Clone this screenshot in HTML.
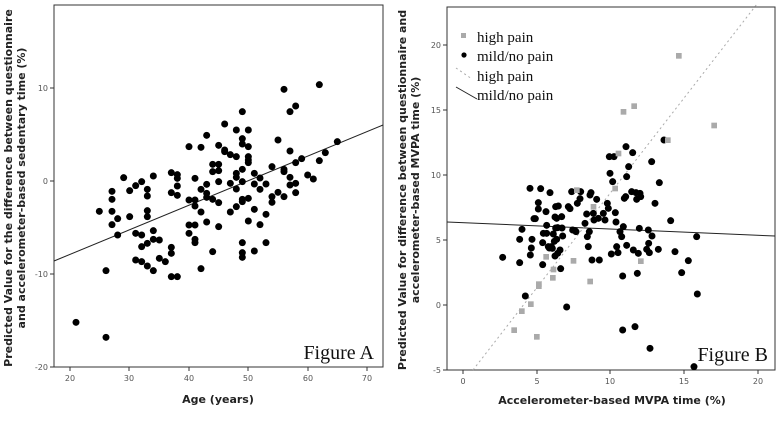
<!DOCTYPE html>
<html><head><meta charset="utf-8"><style>
html,body{margin:0;padding:0;background:#fff;}
svg{display:block;}
.t{font-family:"DejaVu Sans","Liberation Sans",sans-serif;font-size:8px;fill:#555;}
.ax{font-family:"DejaVu Sans","Liberation Sans",sans-serif;font-size:11px;font-weight:bold;fill:#222;}
.sf{font-family:"Liberation Serif",serif;fill:#111;}
.pts circle{r:10.5px;}
</style></head><body>
<svg width="782" height="421" viewBox="0 0 782 421" xmlns="http://www.w3.org/2000/svg">
<rect width="782" height="421" fill="#fff"/>
<!-- Figure A -->
<rect x="54" y="5" width="329" height="362" fill="none" stroke="#333" stroke-width="1"/>
<g stroke="#333" stroke-width="1">
<line x1="50" y1="88" x2="54" y2="88"/><line x1="50" y1="181" x2="54" y2="181"/><line x1="50" y1="274" x2="54" y2="274"/><line x1="50" y1="367" x2="54" y2="367"/>
<line x1="70" y1="367" x2="70" y2="371"/><line x1="129" y1="367" x2="129" y2="371"/><line x1="189" y1="367" x2="189" y2="371"/><line x1="248" y1="367" x2="248" y2="371"/><line x1="308" y1="367" x2="308" y2="371"/><line x1="367" y1="367" x2="367" y2="371"/>
</g>
<text class="t" x="48" y="91" text-anchor="end">10</text>
<text class="t" x="48" y="184" text-anchor="end">0</text>
<text class="t" x="48" y="277" text-anchor="end">-10</text>
<text class="t" x="48" y="370" text-anchor="end">-20</text>
<g text-anchor="middle" class="t"><text x="70" y="381">20</text><text x="129" y="381">30</text><text x="189" y="381">40</text><text x="248" y="381">50</text><text x="308" y="381">60</text><text x="367" y="381">70</text></g>
<text class="ax" x="218" y="403" text-anchor="middle">Age (years)</text>
<text class="ax" transform="translate(12,188) rotate(-90)" text-anchor="middle">Predicted Value for the difference between questionnaire</text>
<text class="ax" transform="translate(25,188) rotate(-90)" text-anchor="middle">and accelerometer-based sedentary time (%)</text>
<line x1="54" y1="261" x2="383" y2="125" stroke="#222" stroke-width="1"/>
<text class="sf" x="374" y="359" font-size="20" text-anchor="end">Figure A</text>
<g class="pts" transform="scale(0.33333)" fill="#000">
<circle cx="298" cy="634" r="9"/><circle cx="318" cy="812" r="9"/><circle cx="228" cy="967" r="9"/><circle cx="318" cy="1012" r="9"/><circle cx="336" cy="574" r="9"/><circle cx="336" cy="598" r="9"/><circle cx="336" cy="634" r="9"/><circle cx="336" cy="674" r="9"/><circle cx="353" cy="656" r="9"/><circle cx="353" cy="705" r="9"/><circle cx="371" cy="533" r="9"/><circle cx="389" cy="572" r="9"/><circle cx="389" cy="650" r="9"/><circle cx="407" cy="557" r="9"/><circle cx="407" cy="700" r="9"/><circle cx="407" cy="780" r="9"/><circle cx="425" cy="545" r="9"/><circle cx="425" cy="705" r="9"/><circle cx="425" cy="740" r="9"/><circle cx="425" cy="785" r="9"/><circle cx="442" cy="568" r="9"/><circle cx="442" cy="588" r="9"/><circle cx="442" cy="632" r="9"/><circle cx="442" cy="650" r="9"/><circle cx="442" cy="730" r="9"/><circle cx="442" cy="798" r="9"/><circle cx="460" cy="528" r="9"/><circle cx="460" cy="692" r="9"/><circle cx="460" cy="718" r="9"/><circle cx="460" cy="812" r="9"/><circle cx="478" cy="720" r="9"/><circle cx="478" cy="775" r="9"/><circle cx="496" cy="785" r="9"/><circle cx="514" cy="518" r="9"/><circle cx="514" cy="578" r="9"/><circle cx="514" cy="742" r="9"/><circle cx="514" cy="760" r="9"/><circle cx="514" cy="830" r="9"/><circle cx="532" cy="524" r="9"/><circle cx="532" cy="535" r="9"/><circle cx="532" cy="558" r="9"/><circle cx="532" cy="586" r="9"/><circle cx="532" cy="830" r="9"/><circle cx="567" cy="440" r="9"/><circle cx="567" cy="600" r="9"/><circle cx="567" cy="675" r="9"/><circle cx="567" cy="700" r="9"/><circle cx="585" cy="535" r="9"/><circle cx="585" cy="600" r="9"/><circle cx="585" cy="618" r="9"/><circle cx="585" cy="675" r="9"/><circle cx="585" cy="718" r="9"/><circle cx="585" cy="728" r="9"/><circle cx="603" cy="442" r="9"/><circle cx="603" cy="568" r="9"/><circle cx="603" cy="636" r="9"/><circle cx="603" cy="806" r="9"/><circle cx="620" cy="406" r="9"/><circle cx="620" cy="553" r="9"/><circle cx="620" cy="580" r="9"/><circle cx="620" cy="592" r="9"/><circle cx="620" cy="666" r="9"/><circle cx="638" cy="598" r="9"/><circle cx="638" cy="755" r="9"/><circle cx="638" cy="493" r="9"/><circle cx="638" cy="515" r="9"/><circle cx="656" cy="436" r="9"/><circle cx="656" cy="493" r="9"/><circle cx="656" cy="512" r="9"/><circle cx="656" cy="545" r="9"/><circle cx="656" cy="608" r="9"/><circle cx="656" cy="680" r="9"/><circle cx="674" cy="372" r="9"/><circle cx="674" cy="450" r="9"/><circle cx="674" cy="455" r="9"/><circle cx="691" cy="464" r="9"/><circle cx="691" cy="550" r="9"/><circle cx="691" cy="636" r="9"/><circle cx="709" cy="470" r="9"/><circle cx="709" cy="520" r="9"/><circle cx="709" cy="532" r="9"/><circle cx="709" cy="567" r="9"/><circle cx="709" cy="620" r="9"/><circle cx="709" cy="390" r="9"/><circle cx="727" cy="335" r="9"/><circle cx="727" cy="416" r="9"/><circle cx="727" cy="432" r="9"/><circle cx="727" cy="508" r="9"/><circle cx="727" cy="545" r="9"/><circle cx="727" cy="598" r="9"/><circle cx="727" cy="605" r="9"/><circle cx="727" cy="728" r="9"/><circle cx="727" cy="758" r="9"/><circle cx="727" cy="772" r="9"/><circle cx="745" cy="390" r="9"/><circle cx="745" cy="440" r="9"/><circle cx="745" cy="470" r="9"/><circle cx="745" cy="480" r="9"/><circle cx="745" cy="488" r="9"/><circle cx="745" cy="595" r="9"/><circle cx="745" cy="663" r="9"/><circle cx="763" cy="520" r="9"/><circle cx="763" cy="552" r="9"/><circle cx="763" cy="628" r="9"/><circle cx="763" cy="753" r="9"/><circle cx="780" cy="534" r="9"/><circle cx="780" cy="568" r="9"/><circle cx="780" cy="674" r="9"/><circle cx="798" cy="552" r="9"/><circle cx="798" cy="643" r="9"/><circle cx="798" cy="728" r="9"/><circle cx="816" cy="500" r="9"/><circle cx="816" cy="590" r="9"/><circle cx="816" cy="607" r="9"/><circle cx="834" cy="420" r="9"/><circle cx="834" cy="577" r="9"/><circle cx="852" cy="268" r="9"/><circle cx="852" cy="508" r="9"/><circle cx="852" cy="515" r="9"/><circle cx="852" cy="590" r="9"/><circle cx="870" cy="335" r="9"/><circle cx="870" cy="453" r="9"/><circle cx="870" cy="532" r="9"/><circle cx="870" cy="555" r="9"/><circle cx="887" cy="318" r="9"/><circle cx="887" cy="488" r="9"/><circle cx="887" cy="550" r="9"/><circle cx="887" cy="578" r="9"/><circle cx="905" cy="476" r="9"/><circle cx="923" cy="525" r="9"/><circle cx="940" cy="537" r="9"/><circle cx="958" cy="254" r="9"/><circle cx="958" cy="482" r="9"/><circle cx="976" cy="458" r="9"/><circle cx="1012" cy="425" r="9"/>
</g>

<!-- Figure B -->
<rect x="447" y="7" width="328" height="363" fill="none" stroke="#333" stroke-width="1"/>
<g stroke="#333" stroke-width="1">
<line x1="443" y1="45" x2="447" y2="45"/><line x1="443" y1="110" x2="447" y2="110"/><line x1="443" y1="175" x2="447" y2="175"/><line x1="443" y1="240" x2="447" y2="240"/><line x1="443" y1="305" x2="447" y2="305"/><line x1="443" y1="370" x2="447" y2="370"/>
<line x1="463" y1="370" x2="463" y2="374"/><line x1="537" y1="370" x2="537" y2="374"/><line x1="610" y1="370" x2="610" y2="374"/><line x1="684" y1="370" x2="684" y2="374"/><line x1="758" y1="370" x2="758" y2="374"/>
</g>
<g class="t" text-anchor="end"><text x="441" y="48">20</text><text x="441" y="113">15</text><text x="441" y="178">10</text><text x="441" y="243">5</text><text x="441" y="308">0</text><text x="441" y="373">-5</text></g>
<g text-anchor="middle" class="t"><text x="463" y="384">0</text><text x="537" y="384">5</text><text x="610" y="384">10</text><text x="684" y="384">15</text><text x="758" y="384">20</text></g>
<text class="ax" x="612" y="404" text-anchor="middle">Accelerometer-based MVPA time (%)</text>
<text class="ax" transform="translate(406,190) rotate(-90)" text-anchor="middle">Predicted Value for difference between questionnaire and</text>
<text class="ax" transform="translate(419,190) rotate(-90)" text-anchor="middle">accelerometer-based MVPA time (%)</text>
<line x1="447" y1="222" x2="775" y2="236" stroke="#222" stroke-width="1"/>
<line x1="473" y1="370" x2="757" y2="4" stroke="#aaa" stroke-width="1" stroke-dasharray="2,3"/>
<text class="sf" x="768" y="361" font-size="20" text-anchor="end">Figure B</text>
<g transform="translate(390,0) scale(0.33333)">
<g class="pts" fill="#000">
<circle cx="338" cy="772" r="9"/><circle cx="389" cy="718" r="9"/><circle cx="389" cy="788" r="9"/><circle cx="396" cy="688" r="9"/><circle cx="406" cy="888" r="9"/><circle cx="420" cy="565" r="9"/><circle cx="421" cy="765" r="9"/><circle cx="424" cy="744" r="9"/><circle cx="426" cy="718" r="9"/><circle cx="432" cy="656" r="9"/><circle cx="436" cy="656" r="9"/><circle cx="445" cy="608" r="9"/><circle cx="445" cy="627" r="9"/><circle cx="452" cy="566" r="9"/><circle cx="458" cy="794" r="9"/><circle cx="458" cy="728" r="9"/><circle cx="460" cy="700" r="9"/><circle cx="468" cy="635" r="9"/><circle cx="470" cy="676" r="9"/><circle cx="470" cy="700" r="9"/><circle cx="475" cy="740" r="9"/><circle cx="478" cy="744" r="9"/><circle cx="480" cy="578" r="9"/><circle cx="484" cy="740" r="9"/><circle cx="487" cy="745" r="9"/><circle cx="490" cy="702" r="9"/><circle cx="493" cy="724" r="9"/><circle cx="495" cy="768" r="9"/><circle cx="495" cy="651" r="9"/><circle cx="497" cy="620" r="9"/><circle cx="497" cy="684" r="9"/><circle cx="500" cy="655" r="9"/><circle cx="500" cy="718" r="9"/><circle cx="503" cy="760" r="9"/><circle cx="503" cy="683" r="9"/><circle cx="505" cy="618" r="9"/><circle cx="510" cy="750" r="9"/><circle cx="512" cy="806" r="9"/><circle cx="515" cy="650" r="9"/><circle cx="516" cy="684" r="9"/><circle cx="518" cy="708" r="9"/><circle cx="530" cy="921" r="9"/><circle cx="535" cy="620" r="9"/><circle cx="540" cy="626" r="9"/><circle cx="545" cy="575" r="9"/><circle cx="548" cy="690" r="9"/><circle cx="555" cy="692" r="9"/><circle cx="558" cy="695" r="9"/><circle cx="562" cy="610" r="9"/><circle cx="570" cy="596" r="9"/><circle cx="572" cy="575" r="9"/><circle cx="585" cy="670" r="9"/><circle cx="590" cy="642" r="9"/><circle cx="592" cy="710" r="9"/><circle cx="595" cy="740" r="9"/><circle cx="598" cy="695" r="9"/><circle cx="600" cy="585" r="9"/><circle cx="603" cy="578" r="9"/><circle cx="606" cy="780" r="9"/><circle cx="610" cy="640" r="9"/><circle cx="612" cy="660" r="9"/><circle cx="620" cy="598" r="9"/><circle cx="625" cy="655" r="9"/><circle cx="628" cy="780" r="9"/><circle cx="640" cy="640" r="9"/><circle cx="645" cy="660" r="9"/><circle cx="652" cy="610" r="9"/><circle cx="655" cy="625" r="9"/><circle cx="658" cy="470" r="9"/><circle cx="660" cy="520" r="9"/><circle cx="664" cy="762" r="9"/><circle cx="668" cy="545" r="9"/><circle cx="672" cy="470" r="9"/><circle cx="676" cy="638" r="9"/><circle cx="678" cy="666" r="9"/><circle cx="680" cy="740" r="9"/><circle cx="684" cy="758" r="9"/><circle cx="690" cy="695" r="9"/><circle cx="695" cy="710" r="9"/><circle cx="698" cy="828" r="9"/><circle cx="698" cy="990" r="9"/><circle cx="700" cy="680" r="9"/><circle cx="703" cy="595" r="9"/><circle cx="707" cy="590" r="9"/><circle cx="708" cy="440" r="9"/><circle cx="710" cy="736" r="9"/><circle cx="710" cy="530" r="9"/><circle cx="716" cy="500" r="9"/><circle cx="725" cy="575" r="9"/><circle cx="728" cy="458" r="9"/><circle cx="730" cy="750" r="9"/><circle cx="735" cy="980" r="9"/><circle cx="738" cy="578" r="9"/><circle cx="740" cy="598" r="9"/><circle cx="742" cy="820" r="9"/><circle cx="745" cy="760" r="9"/><circle cx="748" cy="685" r="9"/><circle cx="750" cy="580" r="9"/><circle cx="752" cy="590" r="9"/><circle cx="770" cy="748" r="9"/><circle cx="775" cy="690" r="9"/><circle cx="776" cy="730" r="9"/><circle cx="778" cy="758" r="9"/><circle cx="780" cy="1045" r="9"/><circle cx="785" cy="485" r="9"/><circle cx="786" cy="708" r="9"/><circle cx="795" cy="610" r="9"/><circle cx="805" cy="748" r="9"/><circle cx="808" cy="548" r="9"/><circle cx="822" cy="420" r="9"/><circle cx="842" cy="662" r="9"/><circle cx="855" cy="755" r="9"/><circle cx="875" cy="818" r="9"/><circle cx="895" cy="782" r="9"/><circle cx="912" cy="1100" r="9"/><circle cx="920" cy="710" r="9"/><circle cx="922" cy="882" r="9"/>
</g>
<g fill="#aaa">
<rect x="364" y="982" width="17" height="17"/><rect x="387" y="925" width="17" height="17"/><rect x="414" y="904" width="17" height="17"/><rect x="432" y="1002" width="17" height="17"/><rect x="438" y="850" width="17" height="17"/><rect x="438" y="844" width="17" height="17"/><rect x="460" y="762" width="17" height="17"/><rect x="480" y="825" width="17" height="17"/><rect x="482" y="800" width="17" height="17"/><rect x="542" y="774" width="17" height="17"/><rect x="552" y="562" width="17" height="17"/><rect x="592" y="836" width="17" height="17"/><rect x="602" y="612" width="17" height="17"/><rect x="667" y="557" width="17" height="17"/><rect x="677" y="452" width="17" height="17"/><rect x="692" y="327" width="17" height="17"/><rect x="724" y="310" width="17" height="17"/><rect x="744" y="775" width="17" height="17"/><rect x="825" y="412" width="17" height="17"/><rect x="858" y="159" width="17" height="17"/><rect x="964" y="368" width="17" height="17"/>
</g>
</g>
<!-- legend -->
<rect x="461" y="33" width="5" height="5" fill="#aaa"/>
<circle cx="464" cy="55" r="2.6" fill="#000"/>
<line x1="456" y1="68" x2="472" y2="79" stroke="#aaa" stroke-width="1" stroke-dasharray="2,3"/>
<line x1="456" y1="87" x2="477" y2="99" stroke="#222" stroke-width="1"/>
<g class="sf" font-size="15">
<text x="477" y="42">high pain</text>
<text x="477" y="61">mild/no pain</text>
<text x="477" y="81">high pain</text>
<text x="477" y="100">mild/no pain</text>
</g>
</svg>
</body></html>
